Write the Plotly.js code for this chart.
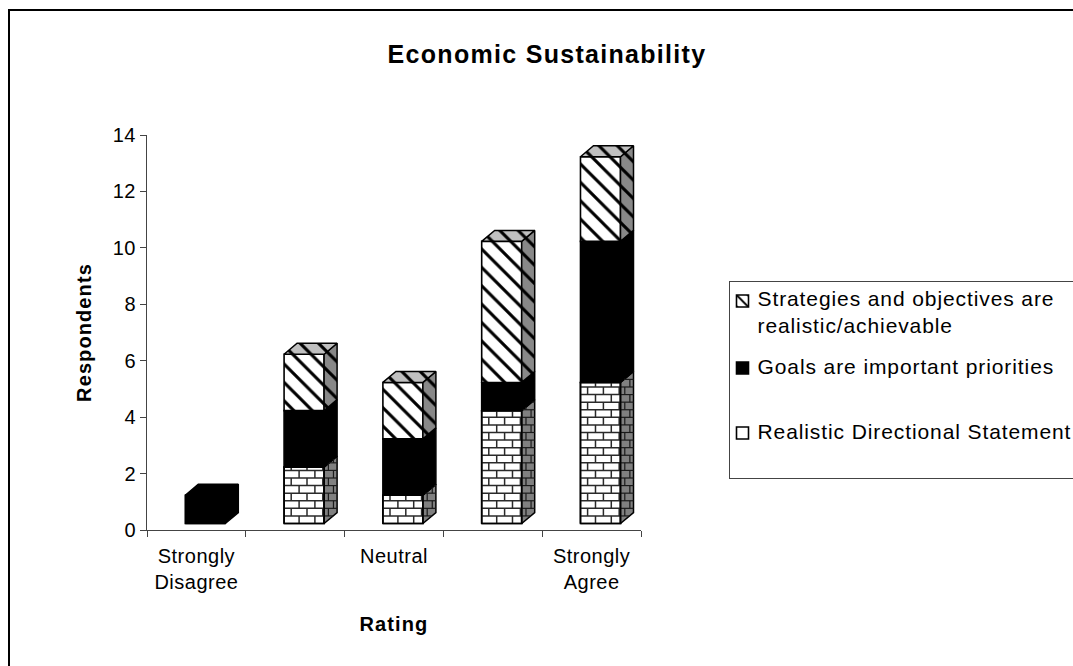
<!DOCTYPE html>
<html>
<head>
<meta charset="utf-8">
<script src="https://cdn.plot.ly/plotly-3.0.1.min.js"></script>
<style>
html,body{margin:0;padding:0;background:#fff;overflow:hidden}
#chart{width:1073px;height:666px}
.xtick text,.ytick text{letter-spacing:.5px}
.legendtext{letter-spacing:.9px}
.gtitle{letter-spacing:1.3px}
.xtitle,.ytitle{letter-spacing:1.1px}
</style>
</head>
<body>
<div id="chart"></div>
<script>
// Stacked responses per rating, drawn with a hand-built 3D look
const ratings = ['Strongly<br>Disagree', '', 'Neutral', '', 'Strongly<br>Agree'];
const positions = [0, 1, 2, 3, 4];
const tickEdges = [-0.5, 0.5, 1.5, 2.5, 3.5, 4.5];
const directional = [0, 2, 1, 4, 5];
const goals = [1, 2, 2, 1, 5];
const strategies = [0, 2, 2, 5, 3];

const nameStrategies = 'Strategies and objectives are<br>realistic/achievable';
const nameGoals = 'Goals are important priorities';
const nameDirectional = 'Realistic Directional Statement';

const FONT = '"Liberation Sans", Arial, sans-serif';
const W = 1073, H = 666;
const M = {l: 147, r: W - 641, t: 134.7, b: H - 530.5, autoexpand: false};
const pxX = 98.8, pxY = 28.27;        // pixels per category and per unit
const floor = 6.5 / pxY;              // front faces sit above the axis plane
const barW = 0.405, barOff = 0.09 - barW / 2;
const dx = 13 / pxX, dy = 11 / pxY;   // depth of the box
const rowH = 7.6 / pxY, brickW = 15.8 / pxX;

const traces = [];
const bases = [new Array(5).fill(floor)];
[directional, goals].forEach((s, k) => bases.push(bases[k].map((b, i) => b + s[i])));

// Front faces: these are the traces the legend lists
function front(name, vals, base, pattern, color) {
  traces.push({type: 'bar', name, x: positions, y: vals, base, width: barW, offset: barOff,
    hoverinfo: 'skip',
    marker: {color, line: {color: '#000', width: 1.6}, pattern}});
}
front(nameDirectional, directional, bases[0], {shape: ''}, '#fff');
front(nameGoals, goals, bases[1], {shape: ''}, '#000');
front(nameStrategies, strategies, bases[2],
  {shape: '\\', size: 13, solidity: 0.24, bgcolor: '#fff', fgcolor: '#000'}, '#fff');

// Side and top faces, projected from the same stacked values
function face(xs, ys, fill, pattern) {
  const t = {type: 'scatter', mode: 'lines', x: xs, y: ys, fill: 'toself', fillcolor: fill,
    line: {color: '#000', width: 1.5}, showlegend: false, hoverinfo: 'skip'};
  if (pattern) t.fillpattern = pattern;
  traces.push(t);
}
const hatch = bg => ({shape: '\\', size: 13, solidity: 0.24, bgcolor: bg, fgcolor: '#000'});

const series = [directional, goals, strategies];
const mortarFrontX = [], mortarFrontY = [], mortarSideX = [], mortarSideY = [];

positions.forEach(i => {
  const x0 = i + barOff, x1 = x0 + barW;
  let topY = floor;
  series.forEach((s, k) => {
    if (!s[i]) return;
    const y0 = bases[k][i], y1 = y0 + s[i];
    topY = y1;
    const sx = [x1, x1 + dx, x1 + dx, x1, x1], sy = [y0, y0 + dy, y1 + dy, y1, y0];
    if (k === 1) face(sx, sy, '#000');
    else if (k === 2) face(sx, sy, '#888', hatch('#888'));
    else face(sx, sy, '#808080');

    if (k === 0) {
      // Brick courses on the front and side of the lowest segment
      const rows = Math.ceil((y1 - y0) / rowH);
      for (let r = 0; r < rows; r++) {
        const yA = y0 + r * rowH, yB = Math.min(y1, yA + rowH);
        if (r > 0) mortarFrontX.push(x0, x1, null), mortarFrontY.push(yA, yA, null);
        const start = x0 + (r % 2 ? 0.45 : 0.95) * brickW;
        for (let v = start; v < x1 - 0.01; v += brickW) {
          mortarFrontX.push(v, v, null); mortarFrontY.push(yA, yB, null);
        }
      }
      const sideRows = Math.ceil((y1 + dy - y0) / rowH);
      for (let r = 1; r < sideRows; r++) {
        const h = y0 + r * rowH;
        const a = h > y1 ? x1 + (h - y1) / dy * dx : x1;
        const b = h < y0 + dy ? x1 + (h - y0) / dy * dx : x1 + dx;
        mortarSideX.push(a, b, null); mortarSideY.push(h, h, null);
        const v = x1 + (r % 2 ? 0.33 : 0.72) * dx;
        const lo = y0 + (v - x1) / dx * dy, hi = lo + s[i];
        const vA = Math.max(h, lo), vB = Math.min(h + rowH, hi);
        if (vB > vA) mortarSideX.push(v, v, null), mortarSideY.push(vA, vB, null);
      }
    }
  });
  // Only the topmost segment shows its lid
  const lidK = series.map((s, k) => s[i] ? k : -1).reduce((a, b) => Math.max(a, b));
  const tx = [x0, x0 + dx, x1 + dx, x1, x0], ty = [topY, topY + dy, topY + dy, topY, topY];
  if (lidK === 1) face(tx, ty, '#000');
  else face(tx, ty, '#c0c0c0', hatch('#c0c0c0'));
});

function mortar(xs, ys, color, width) {
  traces.push({type: 'scatter', mode: 'lines', x: xs, y: ys, connectgaps: false,
    line: {color, width}, showlegend: false, hoverinfo: 'skip'});
}
mortar(mortarFrontX, mortarFrontY, '#2a2a2a', 1.5);
mortar(mortarSideX, mortarSideY, '#1a1a1a', 1.2);

// Outlines of the brick fronts go back on top of their mortar
positions.forEach(i => {
  if (!directional[i]) return;
  const x0 = i + barOff, x1 = x0 + barW, y0 = floor, y1 = y0 + directional[i];
  traces.push({type: 'scatter', mode: 'lines', x: [x0, x1, x1, x0, x0], y: [y0, y0, y1, y1, y0],
    line: {color: '#000', width: 1.6}, showlegend: false, hoverinfo: 'skip'});
});

const fx = p => (p - M.l) / (641 - M.l), fy = p => 1 - (p - M.t) / (530.5 - M.t);

const layout = {
  width: W, height: H, autosize: false,
  margin: M, paper_bgcolor: '#fff', plot_bgcolor: '#fff',
  font: {family: FONT, color: '#000', size: 20},
  barmode: 'overlay',
  title: {text: '<b>Economic Sustainability</b>', font: {family: FONT, size: 25, color: '#000'},
    xref: 'paper', x: fx(547), xanchor: 'center',
    yref: 'container', y: 1 - 54 / H, yanchor: 'middle'},
  xaxis: {type: 'linear', range: [-0.5, 4.5], tickmode: 'array', tickvals: positions, ticktext: ratings,
    ticks: '', ticklabelstandoff: 8,
    minor: {tickmode: 'array', tickvals: tickEdges, ticks: 'outside', ticklen: 6, tickwidth: 1, tickcolor: '#444', showgrid: false},
    showline: true, linecolor: '#444', linewidth: 1, showgrid: false, zeroline: false,
    tickfont: {size: 20, family: FONT}, automargin: false,
    title: {text: '<b>Rating</b>', font: {size: 20, family: FONT}, standoff: 24}},
  yaxis: {range: [0, 14], tickmode: 'array', tickvals: [0, 2, 4, 6, 8, 10, 12, 14], ticks: 'outside', ticklen: 6, tickwidth: 1,
    tickcolor: '#444', showline: true, linecolor: '#444', linewidth: 1, showgrid: false, zeroline: false,
    tickfont: {size: 20, family: FONT}, automargin: false,
    title: {text: '<b>Respondents</b>', font: {size: 20, family: FONT}, standoff: 15}},
  legend: {traceorder: 'reversed', x: fx(728.5), xanchor: 'left', y: fy(281), yanchor: 'top',
    bgcolor: '#fff', bordercolor: '#444', borderwidth: 1,
    font: {size: 21, family: FONT, color: '#000'}, itemclick: false, itemdoubleclick: false},
  // Outer frame runs off the right and bottom of the page
  shapes: [{type: 'path', xref: 'paper', yref: 'paper',
    path: `M${fx(9)},${fy(H + 5)} L${fx(9)},${fy(9.5)} L${fx(W + 5)},${fy(9.5)}`,
    line: {color: '#000', width: 2}}]
};

Plotly.newPlot('chart', traces, layout, {displayModeBar: false}).then(gd => {
  // Fit the legend to its box, with closer swatches and custom row spacing
  const legend = gd.querySelector('.legend');
  legend.querySelector('.bg').setAttribute('width', 345);
  legend.querySelector('.bg').setAttribute('height', 197);
  const scroll = legend.querySelector('.scrollbox');
  if (scroll) scroll.removeAttribute('clip-path');
  legend.removeAttribute('clip-path');
  const rowY = {[nameStrategies]: 20, [nameGoals]: 87, [nameDirectional]: 152};
  legend.querySelectorAll('.traces').forEach(row => {
    const d = row.__data__;
    const name = d && d[0] && d[0].trace ? d[0].trace.name : '';
    row.setAttribute('transform', `translate(-6,${rowY[name]})`);
    const text = row.querySelector('.legendtext');
    if (text) text.setAttribute('transform', `translate(-5,${name === nameStrategies ? 10 : -2})`);
    const swatch = row.querySelector('.legendfill path, .legendbar path, .legendbar');
    if (name === nameDirectional && swatch) {
      // A single brick course inside the swatch
      const p = document.createElementNS('http://www.w3.org/2000/svg', 'path');
      p.setAttribute('d', 'M-6,2H6M0,2V6');
      p.setAttribute('stroke', '#000');
      p.setAttribute('fill', 'none');
      const tf = swatch.getAttribute('transform');
      if (tf) p.setAttribute('transform', tf);
      swatch.parentNode.appendChild(p);
    }
  });
});
</script>
</body>
</html>
